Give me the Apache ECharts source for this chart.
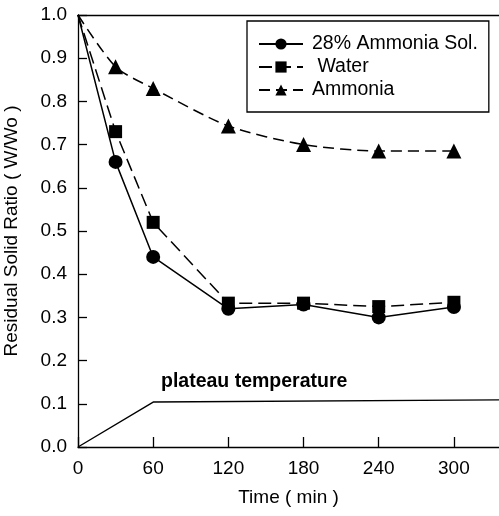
<!DOCTYPE html>
<html>
<head>
<meta charset="utf-8">
<script src="https://cdn.jsdelivr.net/npm/echarts@6/dist/echarts.min.js"></script>
<style>
  html, body { margin: 0; padding: 0; background: #fff; }
  #chart { width: 499px; height: 516px; }
</style>
</head>
<body>
<div id="chart"></div>
<script>
// Time points (min) and residual solid ratio W/Wo for each treatment
const times = [0, 30, 60, 120, 180, 240, 300];
const ammoniaSol = [1.0, 0.66, 0.44, 0.32, 0.33, 0.30, 0.324];
const water = [1.0, 0.73, 0.52, 0.333, 0.333, 0.325, 0.335];
const ammonia = [1.0, 0.88, 0.83, 0.743, 0.70, 0.685, 0.685];
// Temperature programme: ramp to plateau at 60 min, then hold
const plateauTimes = [0, 60, 336];
const plateauLevel = [0, 0.104, 0.109];
const xTicks = [0, 60, 120, 180, 240, 300];
const yTicks = [0, 0.1, 0.2, 0.3, 0.4, 0.5, 0.6, 0.7, 0.8, 0.9, 1.0];

// The starting sample (t = 0) is drawn as the origin of each curve, without a marker
const pair = (xs, ys) => xs.map((x, i) =>
  x === 0 ? { value: [x, ys[i]], symbol: 'none' } : [x, ys[i]]);
const font = 'Liberation Sans, Arial, sans-serif';
const black = '#000';

const chart = echarts.init(document.getElementById('chart'), null, { renderer: 'canvas' });
chart.setOption({
  animation: false,
  backgroundColor: '#fff',
  textStyle: { fontFamily: font, color: black },
  grid: { left: 78, top: 15, bottom: 69, right: 0, containLabel: false, outerBoundsMode: 'none' },
  legend: {
    orient: 'vertical',
    left: 247, top: 21,
    padding: [13, 11, 12, 11],
    itemGap: 3,
    itemWidth: 44, itemHeight: 14,
    borderColor: black, borderWidth: 1.3,
    data: ['28% Ammonia Sol.', ' Water', 'Ammonia'],
    textStyle: { fontFamily: font, fontSize: 19.5, lineHeight: 18, color: black, padding: [0, 0, 0, 4] }
  },
  xAxis: [
    {
      type: 'value', min: 0, max: 336, interval: 60,
      name: 'Time ( min )', nameLocation: 'middle', nameGap: 41,
      nameTextStyle: { fontFamily: font, fontSize: 19, color: black },
      axisLine: { lineStyle: { color: black, width: 1.3 } },
      axisTick: { inside: true, length: 10, customValues: xTicks, lineStyle: { color: black, width: 1.3 } },
      axisLabel: { fontFamily: font, fontSize: 19, color: black, margin: 12, customValues: xTicks },
      splitLine: { show: false }
    },
    {
      // top frame line of the plot
      type: 'value', position: 'top', min: 0, max: 336,
      axisLine: { show: true, onZero: false, lineStyle: { color: black, width: 1.3 } },
      axisTick: { show: false },
      axisLabel: { show: false },
      splitLine: { show: false }
    }
  ],
  yAxis: {
    type: 'value', min: 0, max: 1, interval: 0.1,
    name: 'Residual Solid Ratio ( W/Wo )', nameLocation: 'middle', nameGap: 57,
    nameTextStyle: { fontFamily: font, fontSize: 19, color: black },
    axisLine: { lineStyle: { color: black, width: 1.3 } },
    axisTick: { inside: true, length: 9, customValues: yTicks, lineStyle: { color: black, width: 1.3 } },
    axisLabel: {
      fontFamily: font, fontSize: 19, color: black, margin: 11, customValues: yTicks,
      formatter: v => v.toFixed(1)
    },
    splitLine: { show: false }
  },
  series: [
    {
      name: '28% Ammonia Sol.', type: 'line',
      data: pair(times, ammoniaSol),
      symbol: 'circle', symbolSize: 14,
      itemStyle: { color: black },
      lineStyle: { color: black, width: 1.5, type: 'solid' },
      z: 3
    },
    {
      name: ' Water', type: 'line',
      data: pair(times, water),
      symbol: 'rect', symbolSize: 13,
      itemStyle: { color: black },
      lineStyle: { color: black, width: 1.5, type: [13, 6] },
      z: 3
    },
    {
      name: 'Ammonia', type: 'line',
      data: pair(times, ammonia),
      symbol: 'triangle', symbolSize: 15, smooth: 0.25,
      itemStyle: { color: black },
      lineStyle: { color: black, width: 1.5, type: [11, 6] },
      z: 3
    },
    {
      name: 'plateau', type: 'line',
      data: plateauTimes.map((x, i) => [x, plateauLevel[i]]),
      symbol: 'none',
      lineStyle: { color: black, width: 1.4 },
      z: 2
    }
  ],
  graphic: [
    {
      type: 'text', left: 161, top: 372,
      style: {
        text: 'plateau temperature',
        font: 'bold 19.5px ' + font,
        fill: black
      }
    }
  ]
});
</script>
</body>
</html>
